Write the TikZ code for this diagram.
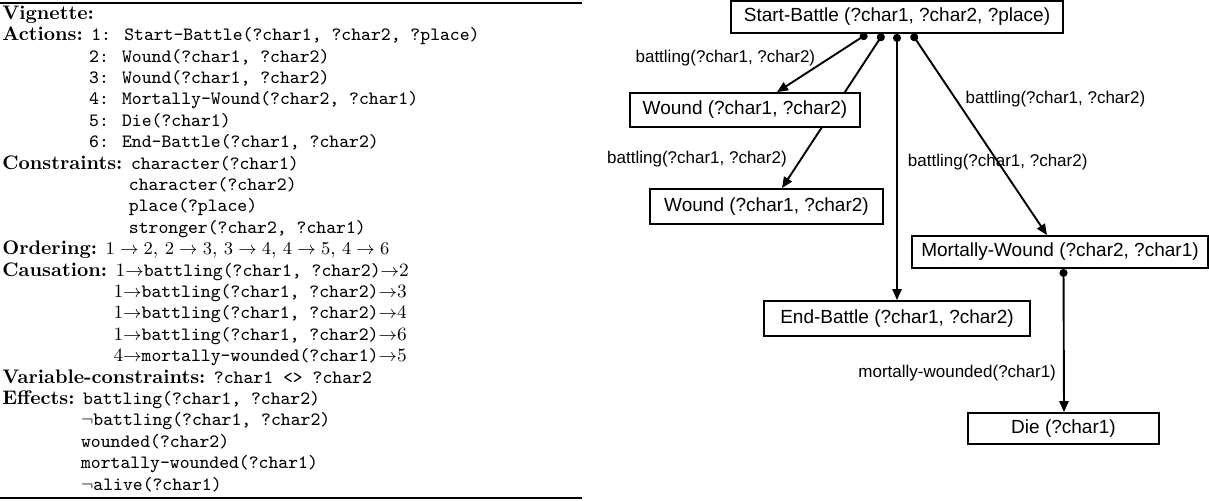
\documentclass[tikz,border=0pt]{standalone}
\usepackage{fontspec}
\newfontfamily\helv{Liberation Sans}
\usetikzlibrary{arrows.meta,backgrounds}

\newcommand{\vlabel}[1]{{\fontsize{9.8}{10.7}\selectfont\bfseries #1}}
\newcommand{\vindent}[1]{\phantom{\vlabel{#1}}}

\begin{document}
\begin{tikzpicture}[x=0.5pt, y=-0.5pt, >={Triangle[length=5.5pt,width=4.6pt]},
  act/.style={draw, line width=0.9pt, fill=white, minimum height=16pt,
    inner xsep=0pt, font=\helv\fontsize{9.5}{11}\selectfont},
  cause/.style={{Circle[length=4pt]}->, line width=0.95pt},
  lbl/.style={inner sep=0pt, font=\helv\fontsize{8.5}{10}\selectfont}]
  \useasboundingbox (0,0) rectangle (1209,500);

  % vignette listing
  \draw[line width=0.8pt] (0,3) -- (582,3);
  \draw[line width=0.8pt] (0,498) -- (582,498);
  \node[anchor=north west, inner sep=0pt] (vignette) at (2,4) {%
    \fontsize{9.4}{10.7}\selectfont
    \begin{tabular}{@{}l@{}}
      \vlabel{Vignette:}\\
      \vlabel{Actions:} \texttt{1: Start-Battle(?char1, ?char2, ?place)}\\
      \vindent{Actions:} \texttt{2: Wound(?char1, ?char2)}\\
      \vindent{Actions:} \texttt{3: Wound(?char1, ?char2)}\\
      \vindent{Actions:} \texttt{4: Mortally-Wound(?char2, ?char1)}\\
      \vindent{Actions:} \texttt{5: Die(?char1)}\\
      \vindent{Actions:} \texttt{6: End-Battle(?char1, ?char2)}\\
      \vlabel{Constraints:} \texttt{character(?char1)}\\
      \vindent{Constraints:} \texttt{character(?char2)}\\
      \vindent{Constraints:} \texttt{place(?place)}\\
      \vindent{Constraints:} \texttt{stronger(?char2, ?char1)}\\
      \vlabel{Ordering:} $1 \rightarrow 2$, $2 \rightarrow 3$, $3 \rightarrow 4$, $4 \rightarrow 5$, $4 \rightarrow 6$\\
      \vlabel{Causation:} 1$\rightarrow$\texttt{battling(?char1, ?char2)}$\rightarrow$2\\
      \vindent{Causation:} 1$\rightarrow$\texttt{battling(?char1, ?char2)}$\rightarrow$3\\
      \vindent{Causation:} 1$\rightarrow$\texttt{battling(?char1, ?char2)}$\rightarrow$4\\
      \vindent{Causation:} 1$\rightarrow$\texttt{battling(?char1, ?char2)}$\rightarrow$6\\
      \vindent{Causation:} 4$\rightarrow$\texttt{mortally-wounded(?char1)}$\rightarrow$5\\
      \vlabel{Variable-constraints:} \texttt{?char1 <> ?char2}\\
      \vlabel{Effects:} \texttt{battling(?char1, ?char2)}\\
      \vindent{Effects:} $\neg$\texttt{battling(?char1, ?char2)}\\
      \vindent{Effects:} \texttt{wounded(?char2)}\\
      \vindent{Effects:} \texttt{mortally-wounded(?char1)}\\
      \vindent{Effects:} $\neg$\texttt{alive(?char1)}
    \end{tabular}};

  % plan graph
  \node[act, minimum width=166pt] (start) at (897,17) {Start-Battle (?char1, ?char2, ?place)};
  \node[act, minimum width=115pt, minimum height=17pt] (wound1) at (745,110) {Wound (?char1, ?char2)};
  \node[act, minimum width=116.5pt, minimum height=17.5pt] (wound2) at (766.5,206.5) {Wound (?char1, ?char2)};
  \node[act, minimum width=148pt] (mortal) at (1060,252) {Mortally-Wound (?char2, ?char1)};
  \node[act, minimum width=133pt, minimum height=17.5pt] (endb) at (897,318.5) {End-Battle (?char1, ?char2)};
  \node[act, minimum width=95.5pt, minimum height=15.5pt] (die) at (1063.5,428.5) {Die (?char1)};

  \begin{scope}[on background layer]
    \draw[cause] ([xshift=-15pt]start.south) -- node[lbl, pos=0.41, anchor=east, xshift=-7pt] (lab1) {battling(?char1, ?char2)} ([xshift=16pt]wound1.north);
    \draw[cause] ([xshift=-7pt]start.south) -- node[lbl, pos=0.815, anchor=east, xshift=-6.5pt] (lab2) {battling(?char1, ?char2)} ([xshift=7.75pt]wound2.north);
    \draw[cause] (start.south) -- node[lbl, pos=0.483, anchor=west, xshift=5pt] (lab3) {battling(?char1, ?char2)} (endb.north);
    \draw[cause] ([xshift=7.5pt]start.south) -- node[lbl, pos=0.324, anchor=west, xshift=4.5pt] (lab4) {battling(?char1, ?char2)} ([xshift=-6.5pt]mortal.north);
    \draw[cause] ([xshift=1.75pt]mortal.south) -- node[lbl, pos=0.73, anchor=east, xshift=-3.5pt] (lab5) {mortally-wounded(?char1)} ([xshift=0.25pt]die.north);
  \end{scope}
\end{tikzpicture}
\end{document}
